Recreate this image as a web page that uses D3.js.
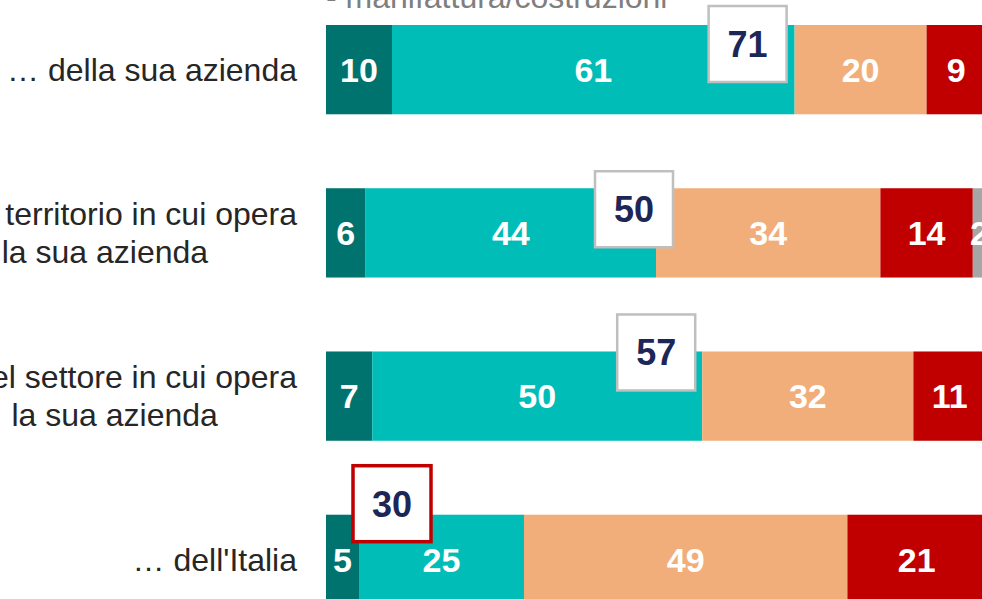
<!DOCTYPE html>
<html>
<head>
<meta charset="utf-8">
<script src="https://cdn.jsdelivr.net/npm/d3@7"></script>
<style>
  html, body { margin: 0; padding: 0; background: #fff; overflow: hidden; }
  svg { display: block; font-family: Arial, "Liberation Sans", sans-serif; }
</style>
</head>
<body>
<svg id="chart" width="982" height="599"></svg>
<script>
// categories (rows), one label line per array entry
const categories = [
  ['… della sua azienda'],
  ['… del territorio in cui opera', 'la sua azienda'],
  ['… del settore in cui opera', 'la sua azienda'],
  ["… dell'Italia"]
]

// series values, in %
const seriesNames = ['Molto migliore', 'Un po\' migliore', 'Un po\' peggiore', 'Molto peggiore', 'Non sa']
const moltoMigliore  = [10, 6, 7, 5]
const unPoMigliore   = [61, 44, 50, 25]
const unPoPeggiore   = [20, 34, 32, 49]
const moltoPeggiore  = [9, 14, 11, 21]
const nonSa          = [0, 2, 0, 0]

const subtitle = '- manifattura/costruzioni'

const colors = ['#00736F', '#00BDB8', '#F1AE7B', '#C00000', '#A6A6A6']

// callout box placement (px), relative to end of the 2nd segment / bar top
const calloutShift = [[-47, 19], [-22, 21], [-46, 1], [-132, -11]]
const calloutBorder = ['#BFBFBF', '#BFBFBF', '#BFBFBF', '#C00000']

const svg = d3.select('#chart')

const x = d3.scaleLinear().domain([0, 100]).range([326, 986])
const y = d3.scaleBand()
  .domain(d3.range(categories.length))
  .range([25, 604])
  .paddingInner(0.453)
  .paddingOuter(0)

const rows = categories.map((c, i) => {
  const vals = [moltoMigliore[i], unPoMigliore[i], unPoPeggiore[i], moltoPeggiore[i], nonSa[i]]
  let acc = 0
  const segs = vals.map((v, k) => {
    const s = { k, v, x0: acc, x1: acc + v }
    acc += v
    return s
  })
  return { i, label: c, segs }
})

// subtitle (partially cut at top)
svg.append('text')
  .attr('x', 326)
  .attr('y', 8)
  .attr('fill', '#7F7F7F')
  .attr('font-size', 32)
  .text(subtitle)

const row = svg.selectAll('g.row').data(rows).enter()
  .append('g')
  .attr('class', 'row')
  .attr('transform', d => `translate(0,${y(d.i)})`)

row.selectAll('rect.seg').data(d => d.segs.filter(s => s.v > 0)).enter()
  .append('rect')
  .attr('class', 'seg')
  .attr('x', s => x(s.x0))
  .attr('width', s => x(s.x1) - x(s.x0))
  .attr('y', 0)
  .attr('height', y.bandwidth())
  .attr('fill', s => colors[s.k])

row.selectAll('text.val').data(d => d.segs.filter(s => s.v > 0)).enter()
  .append('text')
  .attr('class', 'val')
  .attr('x', s => (x(s.x0) + x(s.x1)) / 2)
  .attr('y', y.bandwidth() / 2)
  .attr('dy', '0.36em')
  .attr('text-anchor', 'middle')
  .attr('fill', '#fff')
  .attr('font-weight', 'bold')
  .attr('font-size', 34)
  .text(s => s.v)

// row labels: block right-aligned at 297, lines centred within block
const lineH = 38
row.each(function (d) {
  const g = d3.select(this).append('g').attr('class', 'label')
  const n = d.label.length
  const texts = g.selectAll('text').data(d.label).enter()
    .append('text')
    .attr('y', (l, j) => y.bandwidth() / 2 + (j - (n - 1) / 2) * lineH)
    .attr('dy', '0.35em')
    .attr('fill', '#262626')
    .attr('font-size', 32)
    .attr('text-anchor', 'middle')
    .text(l => l)
  const widths = texts.nodes().map(t => t.getComputedTextLength())
  const w = d3.max(widths)
  texts.attr('x', 297 - w / 2)
})

// callout boxes with sum of the two "migliore" series
const boxW = 78, boxH = 76
const callout = row.append('g')
  .attr('class', 'callout')
  .attr('transform', d => {
    const cx = x(d.segs[1].x1) + calloutShift[d.i][0]
    const cy = calloutShift[d.i][1]
    return `translate(${cx},${cy})`
  })

callout.append('rect')
  .attr('x', -boxW / 2)
  .attr('y', -boxH / 2)
  .attr('width', boxW)
  .attr('height', boxH)
  .attr('fill', '#fff')
  .attr('stroke', d => calloutBorder[d.i])
  .attr('stroke-width', d => d.i === 3 ? 3.5 : 2.5)

callout.append('text')
  .attr('text-anchor', 'middle')
  .attr('dy', '0.36em')
  .attr('fill', '#1C2657')
  .attr('font-weight', 'bold')
  .attr('font-size', 36)
  .text(d => d.segs[0].v + d.segs[1].v)
</script>
</body>
</html>
